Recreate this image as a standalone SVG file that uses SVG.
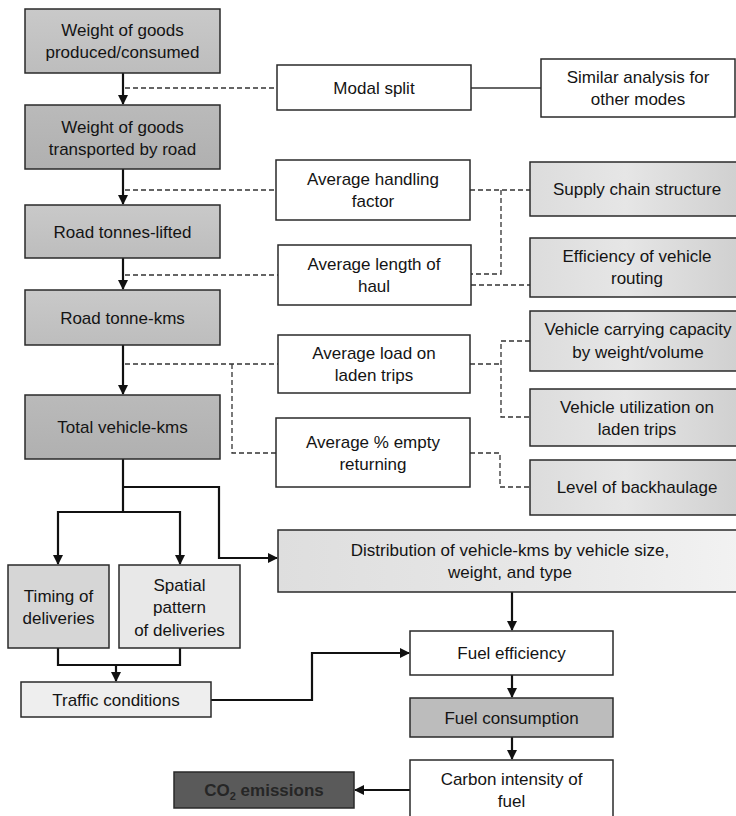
<svg xmlns="http://www.w3.org/2000/svg" width="736" height="816" viewBox="0 0 736 816">
<defs>
<style>
.box{stroke:#2a2a2a;stroke-width:1.5}
.w{fill:#ffffff}
text{font-family:"Liberation Sans",Arial,sans-serif;font-size:17px;fill:#141414;text-anchor:middle}
.arr{fill:none;stroke:#111;stroke-width:2.2}
.dash{fill:none;stroke:#333;stroke-width:1.3;stroke-dasharray:5,3}
.thin{fill:none;stroke:#333;stroke-width:1.3}
</style>
<linearGradient id="gL" x1="0" y1="0" x2="0" y2="1">
<stop offset="0" stop-color="#c9c9c9"/><stop offset="1" stop-color="#bdbdbd"/>
</linearGradient>
<linearGradient id="gD" x1="0" y1="0" x2="0" y2="1">
<stop offset="0" stop-color="#bababa"/><stop offset="1" stop-color="#b0b0b0"/>
</linearGradient>
<linearGradient id="gR" x1="0" y1="0" x2="1" y2="0">
<stop offset="0" stop-color="#dcdcdc"/><stop offset="0.45" stop-color="#e6e6e6"/><stop offset="1" stop-color="#cfcfcf"/>
</linearGradient>
<linearGradient id="gDist" x1="0" y1="0" x2="1" y2="0">
<stop offset="0" stop-color="#dedede"/><stop offset="0.6" stop-color="#e8e8e8"/><stop offset="1" stop-color="#f2f2f2"/>
</linearGradient>
<marker id="ah" markerWidth="10" markerHeight="10" refX="9" refY="5" orient="auto" markerUnits="userSpaceOnUse">
<path d="M0,0 L10,5 L0,10 z" fill="#111"/>
</marker>
</defs>
<rect width="736" height="816" fill="#ffffff"/>

<g id="connectors">
<path class="arr" d="M123,73 V104" marker-end="url(#ah)"/>
<path class="arr" d="M123,169 V204" marker-end="url(#ah)"/>
<path class="arr" d="M123,258 V289" marker-end="url(#ah)"/>
<path class="arr" d="M123,345 V394" marker-end="url(#ah)"/>
<path class="arr" d="M123,459 V512"/>
<path class="arr" d="M58,512 H180"/>
<path class="arr" d="M58,511 V564" marker-end="url(#ah)"/>
<path class="arr" d="M180,511 V564" marker-end="url(#ah)"/>
<path class="arr" d="M123,487 H219 V558 H277" marker-end="url(#ah)"/>
<path class="arr" d="M58,648 V665 H180 V648"/>
<path class="arr" d="M116,665 V681" marker-end="url(#ah)"/>
<path class="arr" d="M211,700 H312 V653 H409" marker-end="url(#ah)"/>
<path class="arr" d="M512,592 V630" marker-end="url(#ah)"/>
<path class="arr" d="M512,675 V697" marker-end="url(#ah)"/>
<path class="arr" d="M512,737 V759" marker-end="url(#ah)"/>
<path class="arr" d="M410,790 H355" marker-end="url(#ah)"/>

<path class="dash" d="M125,88 H277"/>
<path class="thin" d="M471,88 H541"/>
<path class="dash" d="M125,190 H276"/>
<path class="dash" d="M470,190 H530"/>
<path class="dash" d="M501,190 V274 H471"/>
<path class="dash" d="M471,285 H530"/>
<path class="dash" d="M125,275 H278"/>
<path class="dash" d="M125,364 H278"/>
<path class="dash" d="M232,364 V453 H276"/>
<path class="dash" d="M470,364 H501"/>
<path class="dash" d="M530,341 H501 V417 H530"/>
<path class="dash" d="M470,453 H500 V487 H530"/>
</g>

<g id="n-weight-produced">
<rect class="box" x="25" y="9" width="195" height="64" fill="url(#gL)"/>
<text x="122.5" y="36">Weight of goods</text>
<text x="122.5" y="58">produced/consumed</text>
</g>
<g id="n-weight-road">
<rect class="box" x="25" y="105" width="195" height="64" fill="url(#gD)"/>
<text x="122.5" y="133">Weight of goods</text>
<text x="122.5" y="155">transported by road</text>
</g>
<g id="n-tonnes-lifted">
<rect class="box" x="25" y="205" width="195" height="53" fill="url(#gL)"/>
<text x="122.5" y="238">Road tonnes-lifted</text>
</g>
<g id="n-tonne-kms">
<rect class="box" x="25" y="290" width="195" height="55" fill="url(#gL)"/>
<text x="122.5" y="324">Road tonne-kms</text>
</g>
<g id="n-vehicle-kms">
<rect class="box" x="25" y="395" width="195" height="64" fill="url(#gD)"/>
<text x="122.5" y="433">Total vehicle-kms</text>
</g>

<g id="n-modal-split">
<rect class="box w" x="277" y="65" width="194" height="45"/>
<text x="374" y="94">Modal split</text>
</g>
<g id="n-similar">
<rect class="box w" x="541" y="59" width="194" height="58"/>
<text x="638" y="83">Similar analysis for</text>
<text x="638" y="105">other modes</text>
</g>
<g id="n-handling">
<rect class="box w" x="276" y="160" width="194" height="60"/>
<text x="373" y="185">Average handling</text>
<text x="373" y="207">factor</text>
</g>
<g id="n-supply-chain">
<rect class="box" x="530" y="162" width="212" height="54" fill="url(#gR)"/>
<text x="637" y="195">Supply chain structure</text>
</g>
<g id="n-length-haul">
<rect class="box w" x="278" y="245" width="193" height="60"/>
<text x="374" y="270">Average length of</text>
<text x="374" y="292">haul</text>
</g>
<g id="n-routing">
<rect class="box" x="530" y="238" width="212" height="59" fill="url(#gR)"/>
<text x="637" y="262">Efficiency of vehicle</text>
<text x="637" y="284">routing</text>
</g>
<g id="n-load">
<rect class="box w" x="278" y="335" width="192" height="58"/>
<text x="374" y="359">Average load on</text>
<text x="374" y="381">laden trips</text>
</g>
<g id="n-capacity">
<rect class="box" x="530" y="311" width="212" height="60" fill="url(#gR)"/>
<text x="638" y="335">Vehicle carrying capacity</text>
<text x="638" y="358">by weight/volume</text>
</g>
<g id="n-utilization">
<rect class="box" x="530" y="389" width="212" height="57" fill="url(#gR)"/>
<text x="637" y="413">Vehicle utilization on</text>
<text x="637" y="435">laden trips</text>
</g>
<g id="n-empty">
<rect class="box w" x="276" y="418" width="194" height="69"/>
<text x="373" y="448">Average % empty</text>
<text x="373" y="470">returning</text>
</g>
<g id="n-backhaulage">
<rect class="box" x="530" y="460" width="212" height="55" fill="url(#gR)"/>
<text x="637" y="493">Level of backhaulage</text>
</g>

<g id="n-distribution">
<rect class="box" x="278" y="530" width="464" height="62" fill="url(#gDist)"/>
<text x="510" y="556">Distribution of vehicle-kms by vehicle size,</text>
<text x="510" y="578">weight, and type</text>
</g>
<g id="n-timing">
<rect class="box" x="8" y="565" width="101" height="83" fill="#d6d6d6"/>
<text x="58.5" y="602">Timing of</text>
<text x="58.5" y="624">deliveries</text>
</g>
<g id="n-spatial">
<rect class="box" x="119" y="565" width="121" height="83" fill="#e8e8e8"/>
<text x="179.5" y="591">Spatial</text>
<text x="179.5" y="613">pattern</text>
<text x="179.5" y="636">of deliveries</text>
</g>
<g id="n-traffic">
<rect class="box" x="21" y="682" width="190" height="35" fill="#eeeeee"/>
<text x="116" y="706">Traffic conditions</text>
</g>
<g id="n-fuel-eff">
<rect class="box w" x="410" y="631" width="203" height="44"/>
<text x="511.5" y="659">Fuel efficiency</text>
</g>
<g id="n-fuel-cons">
<rect class="box" x="410" y="698" width="203" height="39" fill="#bcbcbc"/>
<text x="511.5" y="724">Fuel consumption</text>
</g>
<g id="n-carbon">
<rect class="box w" x="410" y="760" width="203" height="62"/>
<text x="511.5" y="785">Carbon intensity of</text>
<text x="511.5" y="807">fuel</text>
</g>
<g id="n-co2">
<rect class="box" x="174" y="772" width="180" height="36" fill="#5a5a5a"/>
<text x="264" y="796" style="fill:#262626;font-weight:bold">CO<tspan font-size="11" dy="4">2</tspan><tspan dy="-4"> emissions</tspan></text>
</g>
</svg>
